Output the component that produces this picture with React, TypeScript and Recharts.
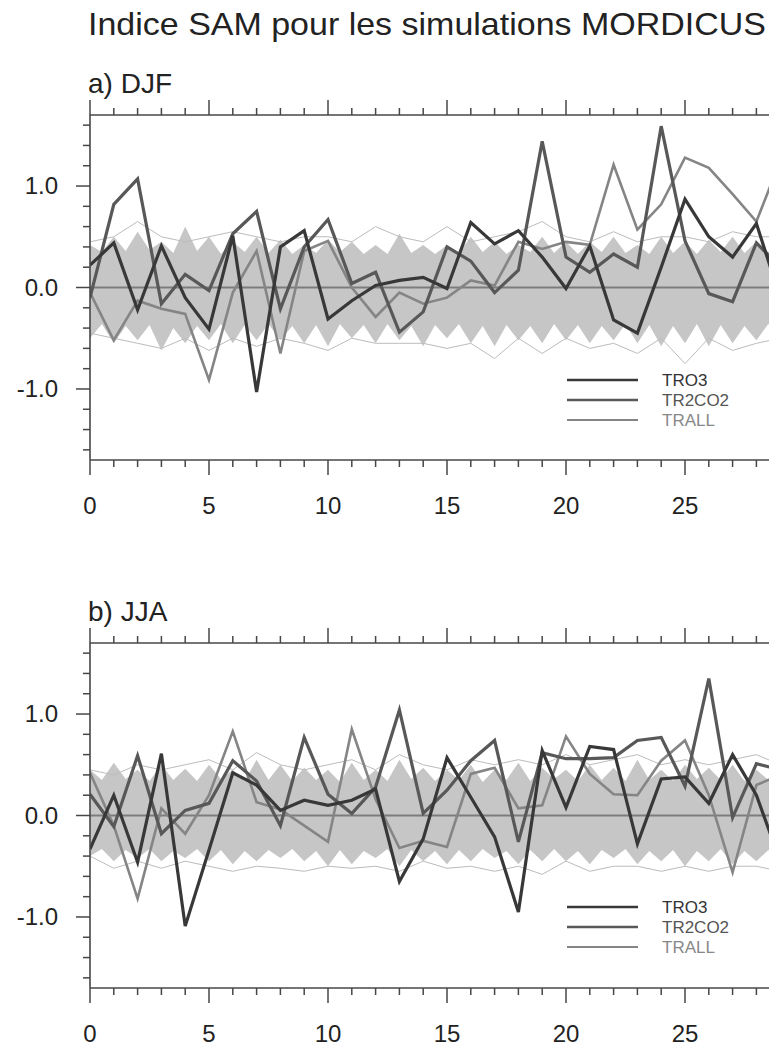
import React from "react";
import {
  ComposedChart,
  Line,
  Area,
  XAxis,
  YAxis,
  ReferenceLine,
} from "recharts";

const FONT = '"Liberation Sans", Arial, Helvetica, sans-serif';
const FRAME = "#474747";
const BAND = "#c6c6c6";
const ENS = "#bcbcbc";
const C_TRO3 = "#383838";
const C_TR2CO2 = "#585858";
const C_TRALL = "#858585";

// years 0..29 (axis runs to 30, figure is cut around 28.5)
// ---- a) DJF ----
const tro3DJF = [
  0.22, 0.44, -0.22, 0.41, -0.1, -0.41, 0.51, -1.03, 0.4, 0.56,
  -0.31, -0.13, 0.02, 0.07, 0.1, -0.01, 0.64, 0.43, 0.56, 0.3,
  -0.01, 0.41, -0.32, -0.45, 0.2, 0.87, 0.5, 0.3, 0.63, -0.1,
];
const tr2co2DJF = [
  -0.1, 0.82, 1.07, -0.16, 0.13, -0.03, 0.53, 0.75, -0.21, 0.4,
  0.67, 0.04, 0.15, -0.44, -0.24, 0.4, 0.26, -0.05, 0.17, 1.44,
  0.3, 0.15, 0.33, 0.2, 1.59, 0.46, -0.06, -0.14, 0.44, 0.2,
];
const trallDJF = [
  -0.05, -0.52, -0.13, -0.21, -0.26, -0.91, -0.05, 0.36, -0.65, 0.36,
  0.46, 0.0, -0.29, -0.05, -0.16, -0.1, 0.07, 0.02, 0.45, 0.38,
  0.45, 0.42, 1.21, 0.57, 0.82, 1.28, 1.18, 0.92, 0.65, 1.25,
];
// outermost control-run members
const ensHiDJF = [
  0.45, 0.5, 0.65, 0.5, 0.45, 0.5, 0.55, 0.5, 0.45, 0.5,
  0.5, 0.45, 0.6, 0.5, 0.45, 0.6, 0.45, 0.5, 0.55, 0.65,
  0.5, 0.45, 0.55, 0.45, 0.5, 0.5, 0.45, 0.55, 0.5, 0.5,
];
const ensLoDJF = [
  -0.45, -0.5, -0.55, -0.6, -0.5, -0.62, -0.5, -0.58, -0.5, -0.55,
  -0.62, -0.5, -0.55, -0.55, -0.55, -0.6, -0.55, -0.7, -0.5, -0.65,
  -0.5, -0.6, -0.55, -0.65, -0.5, -0.75, -0.5, -0.62, -0.55, -0.5,
];
// control-run spread, sampled every half year (0, 0.5, ... 29)
const bandHiDJF = [
  0.42, 0.35, 0.5, 0.36, 0.55, 0.37, 0.45, 0.34, 0.6, 0.36,
  0.5, 0.33, 0.45, 0.35, 0.5, 0.34, 0.47, 0.33, 0.42, 0.34,
  0.47, 0.35, 0.45, 0.33, 0.42, 0.33, 0.53, 0.34, 0.42, 0.33,
  0.42, 0.34, 0.5, 0.35, 0.45, 0.33, 0.42, 0.35, 0.5, 0.34,
  0.45, 0.33, 0.45, 0.35, 0.5, 0.34, 0.42, 0.33, 0.5, 0.34,
  0.45, 0.33, 0.47, 0.35, 0.5, 0.34, 0.45, 0.35, 0.45,
];
const bandLoDJF = [
  -0.5, -0.36, -0.55, -0.38, -0.52, -0.37, -0.62, -0.4, -0.55, -0.38,
  -0.52, -0.36, -0.55, -0.37, -0.52, -0.36, -0.52, -0.38, -0.55, -0.37,
  -0.58, -0.36, -0.5, -0.37, -0.55, -0.36, -0.52, -0.38, -0.58, -0.37,
  -0.5, -0.36, -0.55, -0.38, -0.58, -0.37, -0.52, -0.38, -0.55, -0.36,
  -0.52, -0.37, -0.55, -0.38, -0.52, -0.36, -0.55, -0.37, -0.58, -0.38,
  -0.55, -0.36, -0.58, -0.37, -0.55, -0.38, -0.52, -0.36, -0.5,
];

// ---- b) JJA ----
const tro3JJA = [
  -0.33, 0.2, -0.46, 0.61, -1.09, -0.34, 0.42, 0.3, 0.05, 0.15,
  0.1, 0.15, 0.26, -0.65, -0.23, 0.57, 0.18, -0.21, -0.95, 0.64,
  0.08, 0.68, 0.65, -0.28, 0.36, 0.38, 0.12, 0.6, 0.2, -0.45,
];
const tr2co2JJA = [
  0.21, -0.11, 0.59, -0.18, 0.05, 0.12, 0.54, 0.34, -0.1, 0.77,
  0.21, 0.02, 0.28, 1.04, 0.02, 0.25, 0.54, 0.74, -0.26, 0.62,
  0.56, 0.56, 0.57, 0.74, 0.77, 0.29, 1.35, -0.02, 0.51, 0.45,
];
const trallJJA = [
  0.42, -0.1, -0.82, 0.07, -0.18, 0.2, 0.83, 0.13, 0.06, -0.1,
  -0.26, 0.85, 0.16, -0.32, -0.25, -0.31, 0.41, 0.47, 0.07, 0.1,
  0.78, 0.41, 0.21, 0.2, 0.54, 0.74, 0.2, -0.56, 0.3, 0.4,
];
const ensHiJJA = [
  0.45, 0.4, 0.5, 0.45, 0.5, 0.55, 0.45, 0.62, 0.5, 0.45,
  0.5, 0.55, 0.45, 0.6, 0.5, 0.45, 0.55, 0.5, 0.55, 0.5,
  0.6, 0.5, 0.55, 0.6, 0.5, 0.55, 0.5, 0.55, 0.6, 0.5,
];
const ensLoJJA = [
  -0.4, -0.52, -0.45, -0.52, -0.45, -0.5, -0.55, -0.5, -0.52, -0.55,
  -0.5, -0.52, -0.5, -0.55, -0.45, -0.52, -0.5, -0.55, -0.5, -0.58,
  -0.45, -0.55, -0.5, -0.5, -0.55, -0.5, -0.55, -0.5, -0.5, -0.55,
];
const bandHiJJA = [
  0.45, 0.35, 0.52, 0.36, 0.45, 0.34, 0.5, 0.35, 0.46, 0.34,
  0.5, 0.36, 0.45, 0.34, 0.55, 0.35, 0.5, 0.34, 0.47, 0.35,
  0.45, 0.33, 0.52, 0.35, 0.45, 0.34, 0.55, 0.36, 0.47, 0.34,
  0.45, 0.35, 0.5, 0.33, 0.45, 0.35, 0.52, 0.34, 0.47, 0.36,
  0.45, 0.34, 0.5, 0.35, 0.47, 0.34, 0.55, 0.35, 0.45, 0.34,
  0.5, 0.36, 0.47, 0.35, 0.5, 0.34, 0.45, 0.35, 0.47,
];
const bandLoJJA = [
  -0.4, -0.33, -0.45, -0.34, -0.42, -0.33, -0.45, -0.35, -0.42, -0.33,
  -0.45, -0.34, -0.48, -0.35, -0.45, -0.34, -0.42, -0.33, -0.45, -0.35,
  -0.5, -0.34, -0.48, -0.35, -0.42, -0.33, -0.5, -0.34, -0.45, -0.35,
  -0.48, -0.34, -0.45, -0.33, -0.42, -0.35, -0.48, -0.34, -0.45, -0.33,
  -0.45, -0.35, -0.48, -0.34, -0.42, -0.33, -0.48, -0.35, -0.45, -0.34,
  -0.5, -0.35, -0.45, -0.33, -0.48, -0.35, -0.45, -0.34, -0.45,
];

const xTicks = [
  0, 1, 2, 3, 4, 5, 6, 7, 8, 9, 10, 11, 12, 13, 14, 15,
  16, 17, 18, 19, 20, 21, 22, 23, 24, 25, 26, 27, 28, 29, 30,
];
const yTicks = [
  -1.6, -1.4, -1.2, -1.0, -0.8, -0.6, -0.4, -0.2, 0,
  0.2, 0.4, 0.6, 0.8, 1.0, 1.2, 1.4, 1.6,
];

const legendItems = [
  { name: "TRO3", color: C_TRO3, text: "#333", width: 2.6 },
  { name: "TR2CO2", color: C_TR2CO2, text: "#555", width: 2.6 },
  { name: "TRALL", color: C_TRALL, text: "#888", width: 2 },
];

function buildRows(
  tro3: number[],
  tr2co2: number[],
  trall: number[],
  ensHi: number[],
  ensLo: number[],
  bandHi: number[],
  bandLo: number[]
) {
  return bandHi.map((hi, i) => {
    const whole = i % 2 === 0;
    const k = i / 2;
    return {
      x: k,
      band: [bandLo[i], hi],
      tro3: whole ? tro3[k] : null,
      tr2co2: whole ? tr2co2[k] : null,
      trall: whole ? trall[k] : null,
      ensHi: whole ? ensHi[k] : null,
      ensLo: whole ? ensLo[k] : null,
    };
  });
}

const rowsDJF = buildRows(tro3DJF, tr2co2DJF, trallDJF, ensHiDJF, ensLoDJF, bandHiDJF, bandLoDJF);
const rowsJJA = buildRows(tro3JJA, tr2co2JJA, trallJJA, ensHiJJA, ensLoJJA, bandHiJJA, bandLoJJA);

function BottomTick(props: any) {
  const { x, y, payload } = props;
  const major = payload.value % 5 === 0;
  // labels past the page edge are not shown (the figure is cropped there)
  const showLabel = major && x + 16 < 769;
  return (
    <g>
      <line x1={x} x2={x} y1={y} y2={y + (major ? 15 : 7)} stroke={FRAME} strokeWidth={1.5} />
      {showLabel && (
        <text x={x} y={y + 54} textAnchor="middle" fontSize={24} fontFamily={FONT} fill="#222">
          {payload.value}
        </text>
      )}
    </g>
  );
}

function TopTick(props: any) {
  const { x, y, payload } = props;
  const major = payload.value % 5 === 0;
  return <line x1={x} x2={x} y1={y} y2={y - (major ? 15 : 7)} stroke={FRAME} strokeWidth={1.5} />;
}

function LeftTick(props: any) {
  const { x, y, payload } = props;
  const v = payload.value;
  const major = Math.abs(v - Math.round(v)) < 1e-6;
  return (
    <g>
      <line x1={x} x2={x - (major ? 14 : 7)} y1={y} y2={y} stroke={FRAME} strokeWidth={1.5} />
      {major && (
        <text x={x - 32} y={y + 8} textAnchor="end" fontSize={24} fontFamily={FONT} fill="#222">
          {v.toFixed(1)}
        </text>
      )}
    </g>
  );
}

function Panel({ rows, top }: { rows: any[]; top: number }) {
  return (
    <div style={{ position: "absolute", left: 0, top }}>
      <ComposedChart
        width={814}
        height={540}
        data={rows}
        margin={{ top: 114, right: 10, bottom: 35, left: 0 }}
      >
        <XAxis
          type="number"
          dataKey="x"
          domain={[0, 30]}
          ticks={xTicks}
          interval={0}
          allowDataOverflow
          height={45}
          tickSize={0}
          tickMargin={0}
          tickLine={false}
          axisLine={{ stroke: FRAME, strokeWidth: 1.6 }}
          tick={(p: any) => <BottomTick {...p} />}
        />
        <XAxis
          xAxisId="top"
          orientation="top"
          type="number"
          dataKey="x"
          domain={[0, 30]}
          ticks={xTicks}
          interval={0}
          allowDataOverflow
          height={1}
          tickSize={0}
          tickMargin={0}
          tickLine={false}
          axisLine={{ stroke: FRAME, strokeWidth: 1.6 }}
          tick={(p: any) => <TopTick {...p} />}
        />
        <YAxis
          type="number"
          domain={[-1.7, 1.7]}
          ticks={yTicks}
          interval={0}
          allowDataOverflow
          width={90}
          tickSize={0}
          tickMargin={0}
          tickLine={false}
          axisLine={{ stroke: FRAME, strokeWidth: 1.6 }}
          tick={(p: any) => <LeftTick {...p} />}
        />
        <Area
          dataKey="band"
          stroke="none"
          fill={BAND}
          fillOpacity={1}
          isAnimationActive={false}
        />
        <Line dataKey="ensHi" connectNulls dot={false} stroke={ENS} strokeWidth={1} isAnimationActive={false} />
        <Line dataKey="ensLo" connectNulls dot={false} stroke={ENS} strokeWidth={1} isAnimationActive={false} />
        <ReferenceLine y={0} stroke="#7c7c7c" strokeWidth={1.8} />
        <Line dataKey="trall" connectNulls dot={false} stroke={C_TRALL} strokeWidth={2.6} isAnimationActive={false} />
        <Line dataKey="tr2co2" connectNulls dot={false} stroke={C_TR2CO2} strokeWidth={3.2} isAnimationActive={false} />
        <Line dataKey="tro3" connectNulls dot={false} stroke={C_TRO3} strokeWidth={3.2} isAnimationActive={false} />
      </ComposedChart>
    </div>
  );
}

function LegendBox({ y }: { y: number }) {
  return (
    <g>
      {legendItems.map((it, i) => (
        <g key={it.name}>
          <line x1={567} x2={638} y1={y + i * 20} y2={y + i * 20} stroke={it.color} strokeWidth={it.width} />
          <text x={662} y={y + i * 20 + 6} fontSize={17} fontFamily={FONT} fill={it.text}>
            {it.name}
          </text>
        </g>
      ))}
    </g>
  );
}

export default function App() {
  return (
    <div
      style={{
        position: "fixed",
        left: 0,
        top: 0,
        width: 769,
        height: 1046,
        overflow: "hidden",
        background: "#fff",
      }}
    >
      <Panel rows={rowsDJF} top={0} />
      <Panel rows={rowsJJA} top={528} />
      <svg
        width={769}
        height={1046}
        style={{ position: "absolute", left: 0, top: 0, pointerEvents: "none" }}
      >
        <text x={88} y={35} fontSize={32} fontFamily={FONT} fill="#222" textLength={678} lengthAdjust="spacingAndGlyphs">
          Indice SAM pour les simulations MORDICUS
        </text>
        <text x={88} y={93} fontSize={28} fontFamily={FONT} fill="#222">
          a) DJF
        </text>
        <text x={88} y={621} fontSize={28} fontFamily={FONT} fill="#222">
          b) JJA
        </text>
        <LegendBox y={380} />
        <LegendBox y={907} />
      </svg>
    </div>
  );
}
